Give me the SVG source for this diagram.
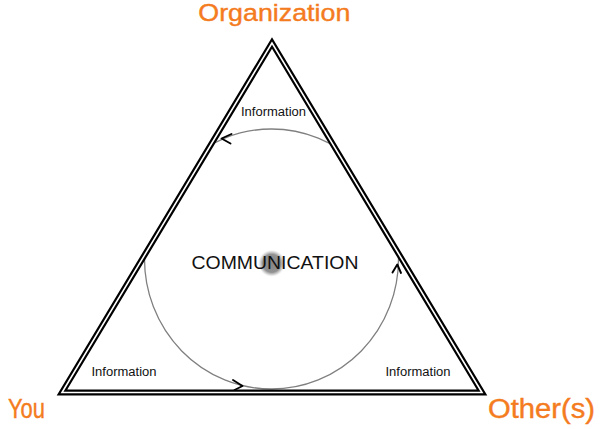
<svg xmlns="http://www.w3.org/2000/svg" width="600" height="429" viewBox="0 0 600 429">
<style>
.lbl{font-family:"Gill Sans","Liberation Sans",Arial,sans-serif;fill:#F47B20;stroke:#F47B20;stroke-width:0.4}
.info{font-family:"Gill Sans","Liberation Sans",Arial,sans-serif;font-size:12px;fill:#111;text-anchor:middle}
.arr{fill:none;stroke:#000;stroke-width:1.9;stroke-linecap:round;stroke-linejoin:round}
</style>
<defs>
<clipPath id="tri"><polygon points="272,43 62,392.5 482,392.5"/></clipPath>
<radialGradient id="ball" cx="0.5" cy="0.5" r="0.5">
<stop offset="0" stop-color="#858585"/>
<stop offset="0.65" stop-color="#929292"/>
<stop offset="0.82" stop-color="#c4c4c4" stop-opacity="0.7"/>
<stop offset="1" stop-color="#ffffff" stop-opacity="0"/>
</radialGradient>
</defs>
<rect width="600" height="429" fill="#fff"/>
<g id="center-ball"><circle cx="271.7" cy="263.3" r="14" fill="url(#ball)"/></g>
<g id="connectors">
<ellipse cx="271.5" cy="259" rx="127" ry="130" fill="none" stroke="#808080" stroke-width="1.3" clip-path="url(#tri)"/>
<path class="arr" d="M231.5,134 L221.5,138.5 L230.5,143.5"/>
<path class="arr" d="M233,380 L242.5,386 L234.5,390"/>
<path class="arr" d="M392.5,272.5 L397.3,264.5 L401,273"/>
</g>
<g id="triangle">
<polygon points="272,43 62,392.5 482,392.5" fill="none" stroke="#000" stroke-width="6" stroke-linejoin="miter" stroke-miterlimit="10"/>
<polygon points="272,43 62,392.5 482,392.5" fill="none" stroke="#fff" stroke-width="1.6" stroke-linejoin="miter" stroke-miterlimit="10"/>
</g>
<g id="communication"><text x="275" y="268.5" font-family="'Gill Sans','Liberation Sans',Arial,sans-serif" font-size="18.6" fill="#111" text-anchor="middle" textLength="167" lengthAdjust="spacingAndGlyphs">COMMUNICATION</text></g>
<g id="info-top"><text class="info" x="273.5" y="116" textLength="65" lengthAdjust="spacingAndGlyphs">Information</text></g>
<g id="info-left"><text class="info" x="124" y="375.7" textLength="65" lengthAdjust="spacingAndGlyphs">Information</text></g>
<g id="info-right"><text class="info" x="418" y="375.7" textLength="65" lengthAdjust="spacingAndGlyphs">Information</text></g>
<g id="organization"><text class="lbl" x="198.3" y="21" font-size="24.5" textLength="152" lengthAdjust="spacingAndGlyphs">Organization</text></g>
<g id="you"><text class="lbl" x="8" y="417.5" font-size="27" textLength="37" lengthAdjust="spacingAndGlyphs">You</text></g>
<g id="others"><text class="lbl" x="488" y="418" font-size="27" textLength="107" lengthAdjust="spacingAndGlyphs">Other(s)</text></g>
</svg>
